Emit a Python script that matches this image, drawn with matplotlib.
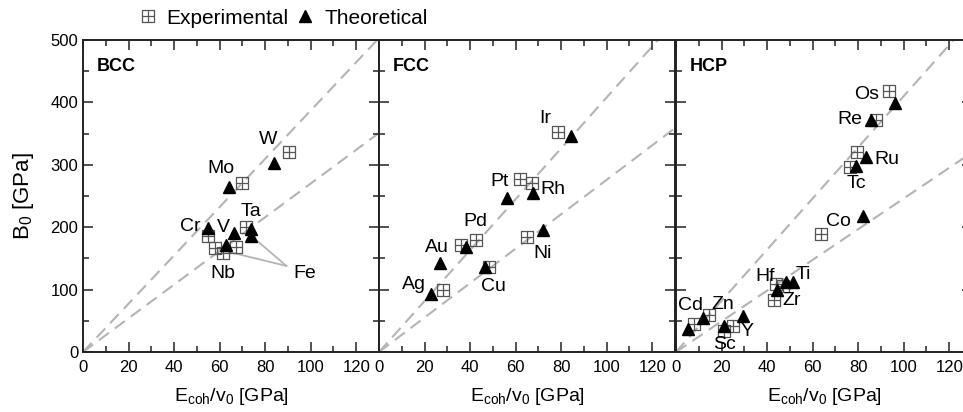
import numpy as np
import matplotlib
matplotlib.use('Agg')
import matplotlib.pyplot as plt
from matplotlib.path import Path
from matplotlib.lines import Line2D

plt.rcParams['font.family'] = ['Liberation Sans', 'DejaVu Sans']
plt.rcParams['mathtext.default'] = 'regular'

# BCC
bcc_names = ['W', 'Mo', 'Cr', 'V', 'Ta', 'Fe', 'Nb']
bcc_exp_x = [90.5, 70.0, 55.0, 67.4, 71.8, 61.3, 58.0]
bcc_exp_y = [321, 271.5, 186.6, 169, 200, 158.5, 166.5]
bcc_th_x = [83.9, 64.0, 55.0, 66.4, 74.0, 74.0, 63.0]
bcc_th_y = [303.5, 265, 199.5, 190.5, 197, 186, 171.7]

# FCC
fcc_names = ['Ir', 'Pt', 'Rh', 'Pd', 'Au', 'Ag', 'Cu', 'Ni']
fcc_exp_x = [78.4, 62.1, 67.2, 42.4, 36.0, 27.9, 48.2, 65.2]
fcc_exp_y = [353, 277, 270.5, 179.7, 171.7, 98.6, 136, 184]
fcc_th_x = [84.5, 56.3, 67.7, 38.0, 27.0, 22.8, 46.5, 72.0]
fcc_th_y = [346, 246.5, 254.5, 169, 142.4, 93.3, 137, 195.7]

# HCP
hcp_names = ['Os', 'Re', 'Ru', 'Tc', 'Co', 'Ti', 'Hf', 'Zr', 'Cd', 'Zn', 'Sc', 'Y']
hcp_exp_x = [93.4, 88.0, 79.5, 76.3, 63.5, 47.0, 44.1, 43.0, 7.9, 14.6, 21.2, 25.2]
hcp_exp_y = [418.7, 371.8, 321, 297, 189, 105, 108.8, 82.6, 45, 58.6, 33, 41]
hcp_th_x = [96.0, 85.5, 83.6, 79.2, 82.2, 51.2, 48.5, 44.4, 5.4, 11.7, 21.2, 29.3]
hcp_th_y = [399.5, 371.8, 312, 298, 218, 112, 112, 98.6, 36.8, 54.4, 42, 58]

# dashed guide lines through the origin (slopes per panel)
bcc_slopes = [3.87, 2.70]
fcc_slopes = [4.08, 2.76]
hcp_slopes = [4.10, 2.46]

# label centres
bcc_lab = [(81.3, 340), (60.8, 294.5), (47.0, 201), (61.5, 200), (74, 225), (97.4, 126.5), (61.5, 126.5)]
fcc_lab = [(73.1, 374.5), (53.1, 273), (76.5, 261), (42.4, 209), (25.6, 168), (15.5, 107.7), (50.4, 105), (72, 158.5)]
hcp_lab = [(83.9, 412), (76.5, 373), (92.4, 308), (79.2, 270.5), (71.2, 209), (55.8, 124.8),
           (39, 121), (50.8, 82.6), (6.4, 74), (20.7, 75.6), (21.5, 11.7), (31.3, 33)]

# marker: square with a cross
sq_plus = Path([(-1, -1), (1, -1), (1, 1), (-1, 1), (-1, -1), (-1, 0), (1, 0), (0, -1), (0, 1)],
               [Path.MOVETO, Path.LINETO, Path.LINETO, Path.LINETO, Path.CLOSEPOLY,
                Path.MOVETO, Path.LINETO, Path.MOVETO, Path.LINETO])

fig = plt.figure(figsize=(9.63, 4.12), dpi=100)
W = 296 / 963
H = 312 / 412
B = 60 / 412
lefts = [83 / 963, 379 / 963, 676 / 963]

panels = [
    ('BCC', bcc_names, bcc_exp_x, bcc_exp_y, bcc_th_x, bcc_th_y, bcc_lab, bcc_slopes),
    ('FCC', fcc_names, fcc_exp_x, fcc_exp_y, fcc_th_x, fcc_th_y, fcc_lab, fcc_slopes),
    ('HCP', hcp_names, hcp_exp_x, hcp_exp_y, hcp_th_x, hcp_th_y, hcp_lab, hcp_slopes),
]

xs = np.array([0, 150])
for i, (title, names, ex, ey, tx, ty, lab, slopes) in enumerate(panels):
    ax = fig.add_axes([lefts[i], B, W, H])
    for s in slopes:
        ax.plot(xs, s * xs, ls=(0, (6, 3.5)), color='#b4b4b4', lw=1.5, zorder=1)
    ax.plot(ex, ey, ls='none', marker=sq_plus, ms=8, mfc='none', mec='#555555', mew=0.9, zorder=2)
    ax.plot(tx, ty, ls='none', marker='^', ms=9, color='black', zorder=3)
    for n, (lx, ly) in zip(names, lab):
        ax.text(lx, ly, n, fontsize=14, ha='center', va='center', zorder=4)
    if title == 'BCC':
        # Fe pointer lines
        ax.plot([89.3, 74], [138, 186], color='#b4b4b4', lw=1.3, zorder=1)
        ax.plot([89.3, 60], [138, 164], color='#b4b4b4', lw=1.3, zorder=1)
    ax.text(6, 457, title, fontsize=13, fontweight='bold', ha='left', va='center')
    ax.set_xlim(0, 130)
    ax.set_ylim(0, 500)
    ax.set_xticks(np.arange(0, 121, 20))
    ax.set_xticks(np.arange(0, 131, 10), minor=True)
    ax.set_yticks(np.arange(0, 501, 100))
    ax.set_yticks(np.arange(0, 501, 50), minor=True)
    ax.tick_params(which='both', direction='in', top=True, right=True, width=1.1, color='#222222',
                   labelsize=12)
    ax.tick_params(which='major', length=7)
    ax.tick_params(which='minor', length=4)
    ax.tick_params(axis='x', pad=6)
    for sp in ax.spines.values():
        sp.set_linewidth(1.4)
        sp.set_color('#222222')
    if i > 0:
        ax.set_yticklabels([])
    else:
        ax.set_ylabel('B$_0$ [GPa]', fontsize=16, labelpad=10)
    ax.set_xlabel('E$_{coh}$/v$_0$ [GPa]', fontsize=14, labelpad=8)

handles = [
    Line2D([], [], ls='none', marker=sq_plus, ms=8, mfc='none', mec='#555555', mew=0.9, label='Experimental'),
    Line2D([], [], ls='none', marker='^', ms=9, color='black', label='Theoretical'),
]
fig.legend(handles=handles, loc='center left', bbox_to_anchor=(127 / 963, 1 - 18 / 412), ncol=2,
           frameon=False, fontsize=15, handlelength=1.0, handletextpad=0.4, columnspacing=0.3,
           borderpad=0)

fig.savefig('out.png', dpi=100)
